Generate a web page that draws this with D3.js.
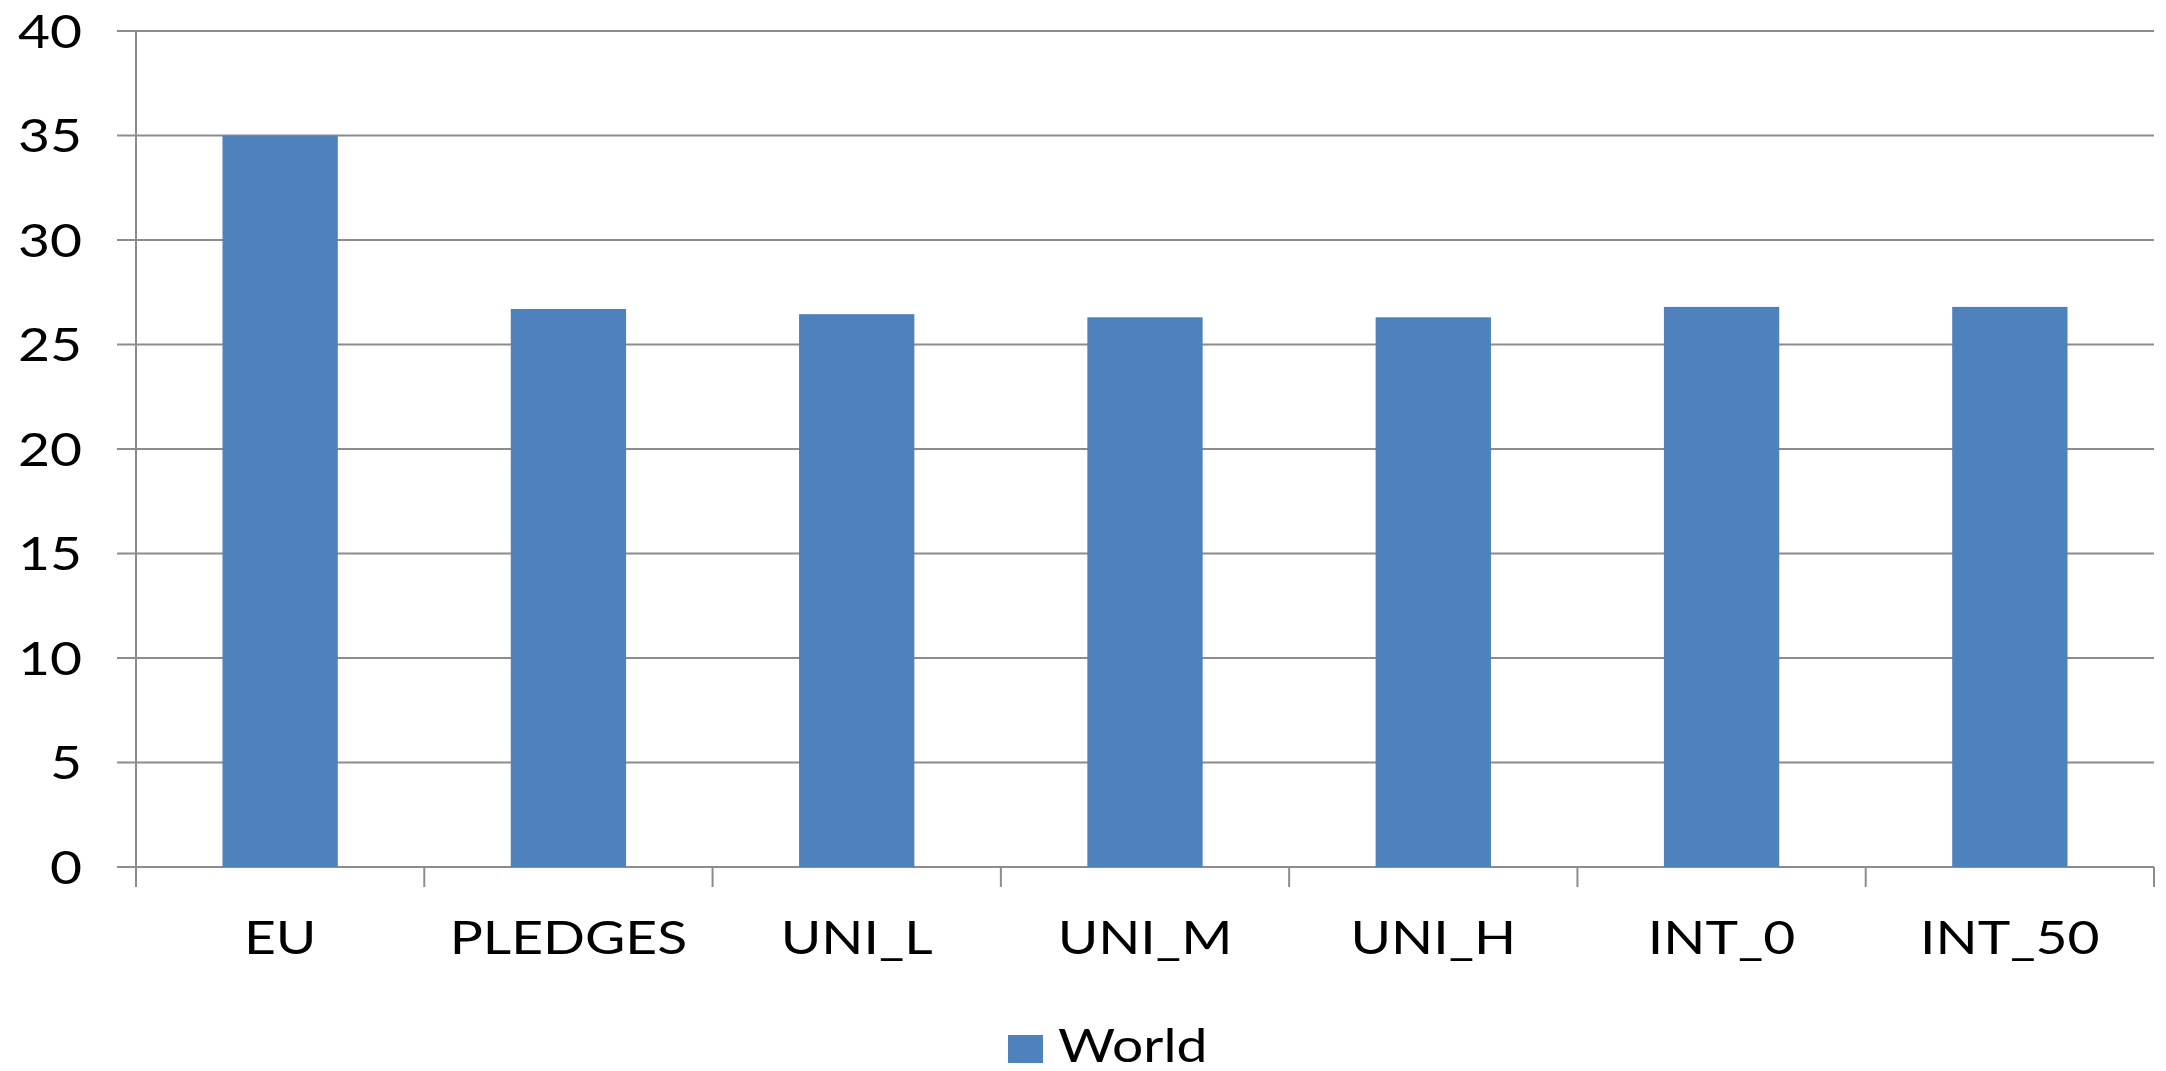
<!DOCTYPE html>
<html>
<head>
<meta charset="utf-8">
<script src="https://cdn.jsdelivr.net/npm/d3@7"></script>
<style>
  html, body { margin: 0; padding: 0; background: #ffffff; }
  svg { display: block; }
  text { font-family: Lato, "Open Sans", sans-serif; fill: #000; }
</style>
</head>
<body>
<svg id="chart" width="2166" height="1071"></svg>
<script>
// Scenarios along the category axis
const categories = ["EU", "PLEDGES", "UNI_L", "UNI_M", "UNI_H", "INT_0", "INT_50"];
// Series "World"
const seriesName = "World";
const worldValues = [35.0, 26.7, 26.45, 26.3, 26.3, 26.8, 26.8];
// Value axis ticks
const yTicks = [0, 5, 10, 15, 20, 25, 30, 35, 40];

const W = 2166, H = 1071;
const margin = { left: 136, right: 12, top: 31, bottom: 204 };
const barColor = "#4F81BD";
const axisColor = "#8c8c8c";
const fontSize = 46;
const stretch = 1.2;

const svg = d3.select("#chart");

const x = d3.scaleBand()
  .domain(categories)
  .range([margin.left, W - margin.right])
  .paddingInner(0.6)
  .paddingOuter(0.3);

const y = d3.scaleLinear()
  .domain([0, 40])
  .range([H - margin.bottom, margin.top]);

// Horizontal gridlines
svg.append("g")
  .selectAll("line")
  .data(yTicks)
  .join("line")
  .attr("x1", margin.left - 19)
  .attr("x2", W - margin.right)
  .attr("y1", d => y(d))
  .attr("y2", d => y(d))
  .attr("stroke", axisColor)
  .attr("stroke-width", 2);

// Bars
svg.append("g")
  .selectAll("rect")
  .data(categories.map((c, i) => ({ c, v: worldValues[i] })))
  .join("rect")
  .attr("x", d => x(d.c))
  .attr("width", x.bandwidth())
  .attr("y", d => y(d.v))
  .attr("height", d => y(0) - y(d.v))
  .attr("fill", barColor);

// Value axis line
svg.append("line")
  .attr("x1", margin.left).attr("x2", margin.left)
  .attr("y1", y(40)).attr("y2", y(0) + 20)
  .attr("stroke", axisColor).attr("stroke-width", 2);

// Category axis ticks at band boundaries
const boundaries = d3.range(categories.length + 1).map(i => margin.left + i * (W - margin.right - margin.left) / categories.length);
svg.append("g")
  .selectAll("line")
  .data(boundaries)
  .join("line")
  .attr("x1", d => d).attr("x2", d => d)
  .attr("y1", y(0)).attr("y2", y(0) + 20)
  .attr("stroke", axisColor).attr("stroke-width", 2);

// Value axis labels
svg.append("g")
  .selectAll("text")
  .data(yTicks)
  .join("text")
  .attr("transform", d => `translate(82,${y(d)}) scale(${stretch},1)`)
  .attr("text-anchor", "end")
  .attr("dy", "0.36em")
  .attr("font-size", fontSize)
  .text(d => d);

// Category labels
svg.append("g")
  .selectAll("text")
  .data(categories)
  .join("text")
  .attr("transform", d => `translate(${x(d) + x.bandwidth() / 2},954) scale(${stretch},1)`)
  .attr("text-anchor", "middle")
  .attr("font-size", fontSize)
  .text(d => d);

// Legend
const lg = svg.append("g");
lg.append("rect")
  .attr("x", 1008).attr("y", 1035)
  .attr("width", 35).attr("height", 28)
  .attr("fill", barColor);
lg.append("text")
  .attr("transform", `translate(1058,1062) scale(${stretch},1)`)
  .attr("font-size", fontSize)
  .text(seriesName);
</script>
</body>
</html>
